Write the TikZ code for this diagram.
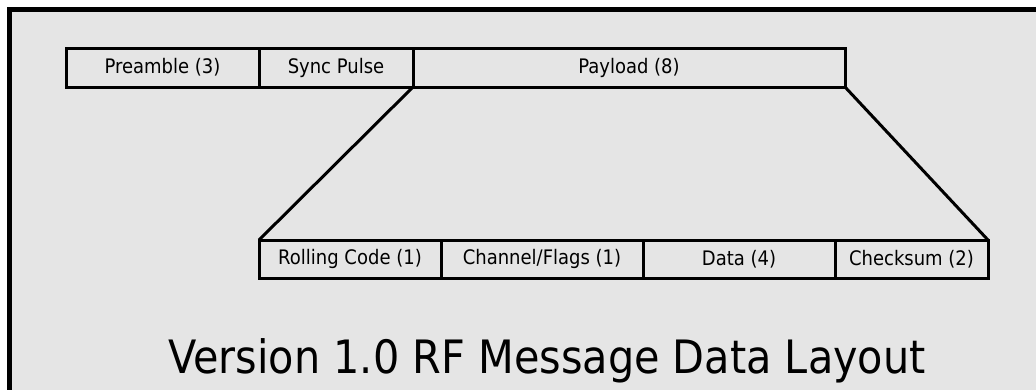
\documentclass[tikz,border=0pt]{standalone}
\usepackage{fontspec}
\setmainfont[FakeStretch=0.9]{DejaVu Sans}
\usetikzlibrary{positioning}
\tikzset{field/.style={draw,line width=3pt,outer sep=0pt,inner sep=0pt,minimum height=39pt,
                       font=\fontsize{20}{24}\selectfont},
         lfield/.style={field,minimum height=38pt},
         frame/.style={draw,line width=5.5pt,fill=black!10}}

\begin{document}
\begin{tikzpicture}[x=1pt,y=-1pt]
        \clip (0,0) rectangle (1036,389);
        \fill[white] (0,0) rectangle (1036,389);
        \draw[frame] (9.5,9.5) rectangle (1090,430);

        % top row
        \node[field, minimum width=193pt, anchor=north west](pre)at(66,48){Preamble (3)};
        \node[field, minimum width=154pt, right=0pt of pre](sync){Sync Pulse};
        \node[field, minimum width=432pt, right=0pt of sync](pay){Payload (8)};

        % payload fields
        \node[lfield, minimum width=182pt, anchor=north west](roll)at(259,240){Rolling Code (1)};
        \node[lfield, minimum width=202pt, right=0pt of roll](chan){Channel/Flags (1)};
        \node[lfield, minimum width=192pt, right=0pt of chan](data){Data (4)};
        \node[lfield, minimum width=153pt, right=0pt of data](sum){Checksum (2)};

        \draw[line width=3pt](pay.south west)--(roll.north west);
        \draw[line width=3pt](pay.south east)--(sum.north east);

        \node[font=\fontsize{46}{50}\selectfont, anchor=base](title)at(547,373){Version 1.0 RF Message Data Layout};
    \end{tikzpicture}
\end{document}
